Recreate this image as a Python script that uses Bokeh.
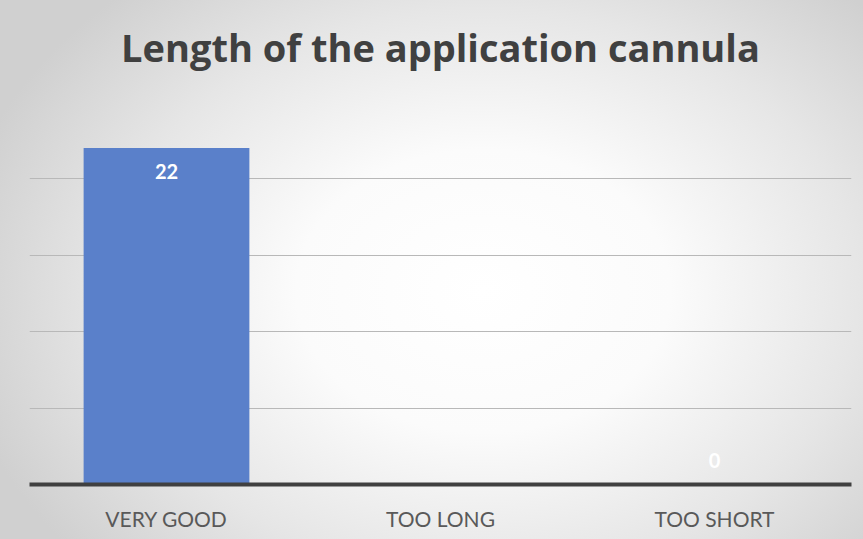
from bokeh.plotting import figure
from bokeh.models import ColumnDataSource, LabelSet, Label, Range1d, FixedTicker
from bokeh.core.properties import value
from bokeh.embed import file_html
from bokeh.resources import INLINE

title_text = "Length of the application cannula"
categories = ["VERY GOOD", "TOO LONG", "TOO SHORT"]
values = [22, None, 0]
grid_ticks = [5, 10, 15, 20]

bar_vals = [v if v is not None else 0 for v in values]
label_txt = [str(v) if v is not None else "" for v in values]
label_off = [-16 if (v or 0) > 0 else 17 for v in values]
label_base = ["top" if (v or 0) > 0 else "bottom" for v in values]

src = ColumnDataSource(dict(cat=categories, val=bar_vals, txt=label_txt,
                            off=label_off, base=label_base))

W, H = 863, 539
TOP, BOTTOM = 5, 55
PX_PER_UNIT = 15.3
y_top = (H - TOP - BOTTOM) / PX_PER_UNIT

p = figure(x_range=categories, y_range=Range1d(0, y_top), width=W, height=H,
           output_backend="svg", toolbar_location=None,
           min_border_left=29, min_border_right=12, min_border_top=TOP,
           min_border_bottom=BOTTOM,
           styles={"background": "radial-gradient(ellipse 62% 75% at 56% 54%, #ffffff 0%, #fbfbfb 35%, #e6e6e6 70%, #d0d0d0 100%)"})
p.border_fill_color = None
p.background_fill_color = None
p.outline_line_color = None

p.vbar(x="cat", top="val", width=0.605, source=src, fill_color="#5A80CA",
       line_color=None)

p.yaxis.visible = False
p.xgrid.grid_line_color = None
p.ygrid.ticker = FixedTicker(ticks=grid_ticks)
p.ygrid.grid_line_color = "#b8b8b8"
p.ygrid.grid_line_width = 1.2

ax = p.xaxis[0]
ax.axis_line_color = "#404040"
ax.axis_line_width = 4
ax.major_tick_line_color = None
ax.minor_tick_line_color = None
ax.major_label_text_font = "Lato"
ax.major_label_text_font_size = "21px"
ax.major_label_text_color = "#595959"
ax.major_label_standoff = 15

labels = LabelSet(x="cat", y="val", text="txt", source=src, text_align="center",
                  y_offset="off", text_baseline="base", text_color="white",
                  text_font=value("Lato"), text_font_style="bold",
                  text_font_size="20px")
p.add_layout(labels)

# chart title, centred over the plot area
p.add_layout(Label(x=1.5, y=(H - BOTTOM - 46) / PX_PER_UNIT, text=title_text,
                   text_align="center", text_baseline="alphabetic",
                   text_font="Open Sans", text_font_style="bold",
                   text_font_size="38px", text_color="#404040"))

open("out.html", "w").write(file_html(p, INLINE))
